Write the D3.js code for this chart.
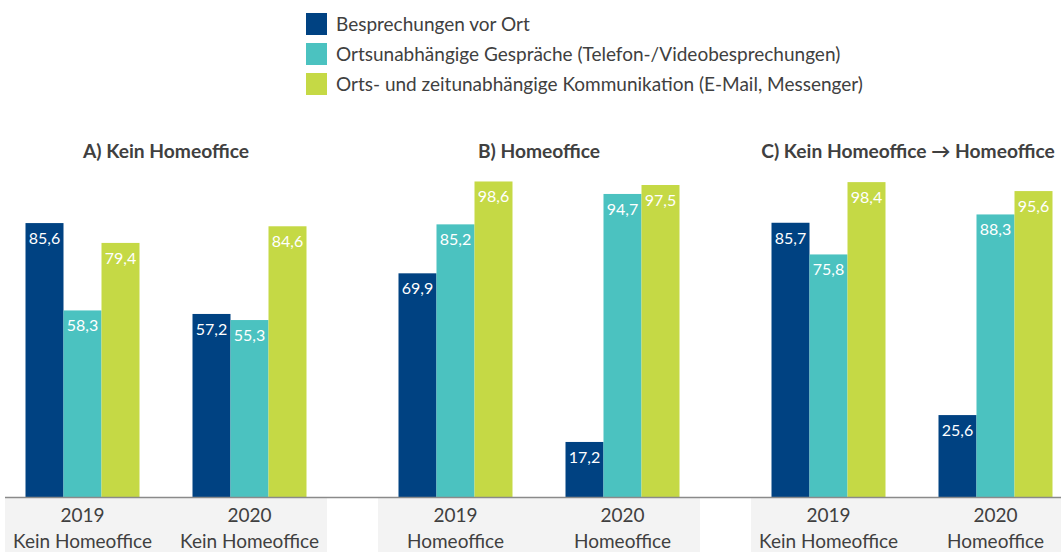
<!DOCTYPE html>
<html><head><meta charset="utf-8">
<script src="https://cdn.jsdelivr.net/npm/d3@7"></script>
<style>body{margin:0;background:#fff}svg{display:block}text{font-family:"Source Sans Pro","Lato",sans-serif}</style>
</head><body><svg id="c" width="1061" height="552"></svg>
<script>
const panels = ["A) Kein Homeoffice", "B) Homeoffice", "C) Kein Homeoffice \u2192 Homeoffice"];
const groupYears = ["2019", "2020"];
const groupLabels = [["Kein Homeoffice","Kein Homeoffice"],["Homeoffice","Homeoffice"],["Kein Homeoffice","Homeoffice"]];
const series = ["Besprechungen vor Ort", "Ortsunabhängige Gespräche (Telefon-/Videobesprechungen)", "Orts- und zeitunabhängige Kommunikation (E-Mail, Messenger)"];
const colors = ["#004282", "#4bc2c0", "#c5d945"];
// values[panel][year][series]
const valuesA = [[85.6, 58.3, 79.4], [57.2, 55.3, 84.6]];
const valuesB = [[69.9, 85.2, 98.6], [17.2, 94.7, 97.5]];
const valuesC = [[85.7, 75.8, 98.4], [25.6, 88.3, 95.6]];
const values = [valuesA, valuesB, valuesC];

const svg = d3.select("#c");
const fmt = v => d3.format(".1f")(v).replace(".", ",");
const txt = "#404040";

const px = d3.scaleBand().domain(panels).range([5, 5 + 3 * 373 - 51]).paddingInner(51 / 373);
const gx = d3.scaleBand().domain(groupYears).range([-6, 328]);
const sx = d3.scaleBand().domain(series).range([-57, 57]);
const y = d3.scaleLinear().domain([0, 100]).range([497, 177]);

// legend
const lg = svg.append("g");
series.forEach((s, i) => {
  lg.append("rect").attr("x", 306).attr("y", 13 + i * 30).attr("width", 21).attr("height", 22).attr("fill", colors[i]);
  lg.append("text").attr("x", 336).attr("y", 31 + i * 30).attr("font-size", 19).attr("fill", txt).text(s);
});

panels.forEach((p, pi) => {
  const g = svg.append("g").attr("transform", `translate(${px(p)},0)`);
  const bw = px.bandwidth();
  g.append("rect").attr("x", 0).attr("y", 498).attr("width", bw).attr("height", 54).attr("fill", "#f3f3f3");
  g.append("text").attr("x", pi === 2 ? 157 : bw / 2).attr("y", 158).attr("text-anchor", "middle")
    .attr("font-size", 19.2).attr("font-weight", "bold").attr("fill", txt).text(p);
  groupYears.forEach((yr, yi) => {
    const cx = gx(yr) + gx.bandwidth() / 2;
    const gg = g.append("g").attr("transform", `translate(${cx},0)`);
    series.forEach((s, si) => {
      const v = values[pi][yi][si];
      gg.append("rect").attr("x", sx(s)).attr("y", y(v)).attr("width", sx.bandwidth()).attr("height", y(0) - y(v)).attr("fill", colors[si]);
      gg.append("text").attr("x", sx(s) + sx.bandwidth() / 2).attr("y", y(v) + 21).attr("text-anchor", "middle")
        .attr("font-size", 16).attr("fill", "#fff").text(fmt(v));
    });
    gg.append("text").attr("x", 0).attr("y", 522).attr("text-anchor", "middle").attr("font-size", 19).attr("fill", txt).text(yr);
    gg.append("text").attr("x", 0).attr("y", 548).attr("text-anchor", "middle").attr("font-size", 19).attr("fill", txt).text(groupLabels[pi][yi]);
  });
});

svg.append("line").attr("x1", 5).attr("x2", 1061).attr("y1", 497.5).attr("y2", 497.5).attr("stroke", "#8a8a8a").attr("stroke-width", 1.5);
</script></body></html>
